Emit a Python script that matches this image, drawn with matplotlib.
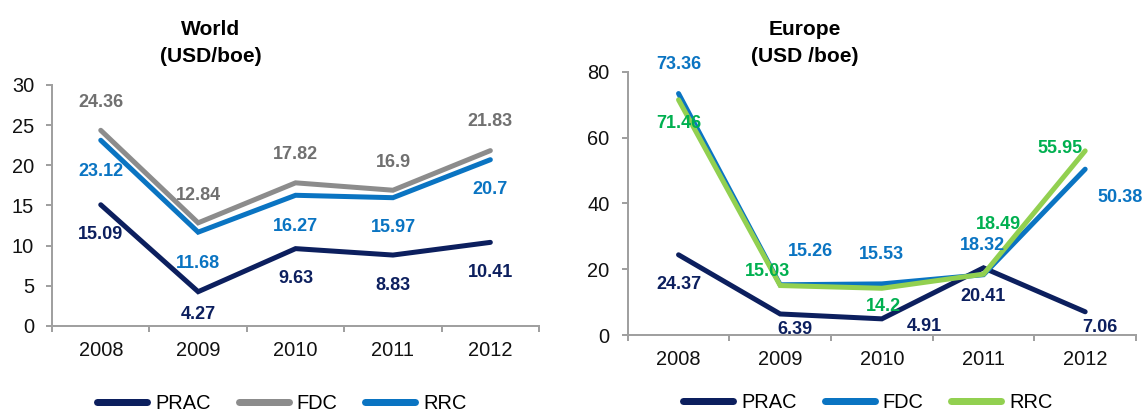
import numpy as np
import matplotlib
import matplotlib.pyplot as plt
from matplotlib.lines import Line2D

matplotlib.use('Agg')

plt.rcParams['font.family'] = ['Liberation Sans', 'DejaVu Sans']

# Data
years = ['2008', '2009', '2010', '2011', '2012']
series_names = ['PRAC', 'FDC', 'RRC']

world_prac = [15.09, 4.27, 9.63, 8.83, 10.41]
world_fdc = [24.36, 12.84, 17.82, 16.9, 21.83]
world_rrc = [23.12, 11.68, 16.27, 15.97, 20.7]

europe_prac = [24.37, 6.39, 4.91, 20.41, 7.06]
europe_fdc = [73.36, 15.26, 15.53, 18.32, 50.38]
europe_rrc = [71.46, 15.03, 14.2, 18.49, 55.95]

# Colours
NAVY = '#0C1F5E'
GRAY = '#8C8C8C'
GRAY_TXT = '#707070'
BLUE = '#0A74C2'
GREEN = '#92D050'
GREEN_TXT = '#00B050'
AXIS = '#A0A0A0'

# label offsets (pixels, dpi=72 so points == pixels)
world_offsets = {
    'PRAC': [(0, -30), (0, -23), (0, -30), (0, -30), (0, -30)],
    'FDC': [(0, 28), (0, 27), (0, 28), (0, 28), (0, 29)],
    'RRC': [(0, -31), (0, -31), (0, -31), (0, -30), (0, -30)],
}
europe_offsets = {
    'PRAC': [(0, -30), (15, -16), (42, -8), (-1, -29), (15, -16)],
    'FDC': [(0, 29), (30, 33), (0, 29), (-1, 29), (35, -28)],
    'RRC': [(0, -24), (-13, 14), (2, -18), (15, 50), (-25, 2)],
}


def draw_panel(ax, data, colors, txt_colors, offsets, ymax, ystep):
    x = np.arange(len(years))
    for name in series_names:
        ax.plot(x, data[name], color=colors[name], lw=5,
                solid_capstyle='round', solid_joinstyle='miter', zorder=2)
        for xi, v, off in zip(x, data[name], offsets[name]):
            ax.annotate(f'{v:g}', (xi, v), xytext=off, textcoords='offset points',
                        ha='center', va='center', fontsize=18, fontweight='bold',
                        color=txt_colors[name], annotation_clip=False, zorder=3)

    ax.set_xlim(-0.5, len(years) - 0.5)
    ax.set_ylim(0, ymax)
    ax.set_yticks(np.arange(0, ymax + 1, ystep))
    ax.set_xticks(np.arange(-0.5, len(years), 1))
    ax.set_xticklabels([])
    ax.set_xticks(x, minor=True)
    ax.set_xticklabels(years, minor=True)

    for s in ['top', 'right']:
        ax.spines[s].set_visible(False)
    for s in ['left', 'bottom']:
        ax.spines[s].set_color(AXIS)
        ax.spines[s].set_linewidth(2)

    ax.tick_params(axis='x', which='major', length=6, width=2, color=AXIS, direction='out')
    ax.tick_params(axis='x', which='minor', length=0, pad=15, labelsize=20, labelcolor='#111111')
    ax.tick_params(axis='y', length=6, width=2, color=AXIS, pad=12,
                   labelsize=20, labelcolor='#111111')


fig = plt.figure(figsize=(1144 / 72, 414 / 72), dpi=72)
ax1 = fig.add_axes([0.0455, 0.2126, 0.4257, 0.5821])
ax2 = fig.add_axes([0.5487, 0.1908, 0.4443, 0.6360])

draw_panel(ax1,
           {'PRAC': world_prac, 'FDC': world_fdc, 'RRC': world_rrc},
           {'PRAC': NAVY, 'FDC': GRAY, 'RRC': BLUE},
           {'PRAC': NAVY, 'FDC': GRAY_TXT, 'RRC': BLUE},
           world_offsets, 30, 5)
draw_panel(ax2,
           {'PRAC': europe_prac, 'FDC': europe_fdc, 'RRC': europe_rrc},
           {'PRAC': NAVY, 'FDC': BLUE, 'RRC': GREEN},
           {'PRAC': NAVY, 'FDC': BLUE, 'RRC': GREEN_TXT},
           europe_offsets, 80, 20)

fig.text(0.1844, 0.896, 'World\n(USD/boe)', ha='center', va='center',
         fontsize=21, fontweight='bold', linespacing=1.55)
fig.text(0.7037, 0.896, 'Europe\n(USD /boe)', ha='center', va='center',
         fontsize=21, fontweight='bold', linespacing=1.55)


def add_legend(ax, colors, center):
    handles = [Line2D([], [], color=colors[n], lw=7, solid_capstyle='round')
               for n in series_names]
    ax.legend(handles, series_names, loc='center', bbox_to_anchor=center,
              bbox_transform=fig.transFigure, ncol=3, frameon=False,
              fontsize=20, handlelength=2.5, handletextpad=0.4,
              columnspacing=1.4, borderpad=0, borderaxespad=0)


add_legend(ax1, {'PRAC': NAVY, 'FDC': GRAY, 'RRC': BLUE}, (0.2465, 0.0242))
add_legend(ax2, {'PRAC': NAVY, 'FDC': BLUE, 'RRC': GREEN}, (0.7587, 0.0266))

fig.savefig('out.png', dpi=72)
